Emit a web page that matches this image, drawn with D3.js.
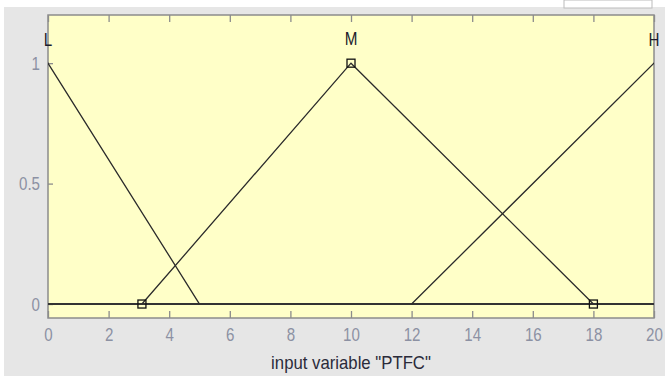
<!DOCTYPE html>
<html>
<head>
<meta charset="utf-8">
<script src="https://cdn.jsdelivr.net/npm/d3@7"></script>
<style>
  body { margin: 0; background: #e6e6e6; }
  svg { display: block; }
</style>
</head>
<body>
<div id="chart"></div>
<script>
// membership functions of input "PTFC"
const mfNames = ["L", "M", "H"];
const mfParams = [[-5, 0, 5], [3.1, 10, 18], [12, 20, 28]];
const xTicks = [0, 2, 4, 6, 8, 10, 12, 14, 16, 18, 20];
const yTicks = [0, 0.5, 1];
const xLabel = 'input variable "PTFC"';

let width = 665, height = 376;
let margin = {top: 15, right: 11, bottom: 58, left: 48};
let font = "Liberation Sans, Arial, sans-serif";
let narrow = 0.84; // squeeze text to look like a narrow font

let svg = d3.select("#chart").append("svg")
    .attr("width", width)
    .attr("height", height);

// white strip at top with small box on the right
svg.append("rect").attr("x", 0).attr("y", 0).attr("width", width).attr("height", 7).attr("fill", "#fff");
svg.append("rect").attr("x", 0).attr("y", 0).attr("width", 4).attr("height", height).attr("fill", "#fff");
svg.append("rect").attr("x", 564).attr("y", 0).attr("width", 88).attr("height", 8)
    .attr("fill", "#fff").attr("stroke", "#bbb");

let x = d3.scaleLinear().domain([0, 20]).range([margin.left, width - margin.right]);
let y = d3.scaleLinear().domain([-0.058, 1.2]).range([height - margin.bottom, margin.top]);

let g = svg.append("g");

g.append("rect")
    .attr("x", x(0)).attr("y", y(1.2))
    .attr("width", x(20) - x(0)).attr("height", y(-0.058) - y(1.2))
    .attr("fill", "#ffffc8");

// frame
g.append("rect")
    .attr("x", x(0)).attr("y", y(1.2))
    .attr("width", x(20) - x(0)).attr("height", y(-0.058) - y(1.2))
    .attr("fill", "none").attr("stroke", "#8c8c8c").attr("stroke-width", 1.5);

// bottom axis
let xAxis = g.append("g")
    .attr("transform", "translate(0," + y(-0.058) + ")")
    .call(d3.axisBottom(x).tickValues(xTicks).tickSizeInner(-7).tickSizeOuter(0).tickPadding(10));
// top ticks
let xTop = g.append("g")
    .attr("transform", "translate(0," + y(1.2) + ")")
    .call(d3.axisTop(x).tickValues(xTicks).tickSizeInner(-7).tickSizeOuter(0).tickFormat(""));
let yAxis = g.append("g")
    .attr("transform", "translate(" + x(0) + ",0)")
    .call(d3.axisLeft(y).tickValues(yTicks).tickSizeInner(-5).tickSizeOuter(0).tickPadding(8)
        .tickFormat(d3.format("")));

[xAxis, xTop, yAxis].forEach(function (a) {
    a.select(".domain").remove();
    a.selectAll("line").attr("stroke", "#8c8c8c").attr("stroke-width", 1.3);
    a.selectAll("text")
        .attr("fill", "#8c91a3")
        .attr("transform", "scale(" + narrow + ",1)")
        .style("font-family", font)
        .style("font-size", "18px");
});
yAxis.selectAll("text").attr("dy", "0.35em").attr("x", -8 / narrow);

// zero line
g.append("line")
    .attr("x1", x(0)).attr("x2", x(20))
    .attr("y1", y(0)).attr("y2", y(0))
    .attr("stroke", "#333").attr("stroke-width", 2);

svg.append("clipPath").attr("id", "clip")
    .append("rect")
    .attr("x", x(0)).attr("y", y(1.2))
    .attr("width", x(20) - x(0)).attr("height", y(-0.058) - y(1.2));

let line = d3.line()
    .x(function (d) { return x(d[0]); })
    .y(function (d) { return y(d[1]); });

let plot = g.append("g").attr("clip-path", "url(#clip)");

// triangles, clipped to the plot box
mfParams.forEach(function (p) {
    plot.append("path")
        .attr("d", line([[p[0], 0], [p[1], 1], [p[2], 0]]))
        .attr("fill", "none")
        .attr("stroke", "#2b2b2b")
        .attr("stroke-width", 1.3);
});

// parameter markers for M
let markers = [[mfParams[1][0], 0], [mfParams[1][1], 1], [mfParams[1][2], 0]];
g.selectAll(".mark")
    .data(markers)
    .enter().append("rect")
    .attr("class", "mark")
    .attr("x", function (d) { return x(d[0]) - 4; })
    .attr("y", function (d) { return y(d[1]) - 4; })
    .attr("width", 8).attr("height", 8)
    .attr("fill", "none").attr("stroke", "#111").attr("stroke-width", 1.3);

// mf labels
g.selectAll(".mflabel")
    .data(mfNames)
    .enter().append("text")
    .attr("class", "mflabel")
    .attr("transform", function (d, i) {
        let px = x(Math.min(Math.max(mfParams[i][1], 0), 20));
        return "translate(" + px + "," + (i === 1 ? 45 : 46) + ") scale(0.8,1)";
    })
    .attr("text-anchor", "middle")
    .attr("fill", "#1c1c2c")
    .style("font-family", font)
    .style("font-size", "19px")
    .text(function (d) { return d; });

svg.append("text")
    .attr("transform", "translate(" + (x(0) + x(20)) / 2 + ",369) scale(0.93,1)")
    .attr("text-anchor", "middle")
    .attr("fill", "#2b2b3a")
    .style("font-family", font)
    .style("font-size", "18px")
    .text(xLabel);
</script>
</body>
</html>
